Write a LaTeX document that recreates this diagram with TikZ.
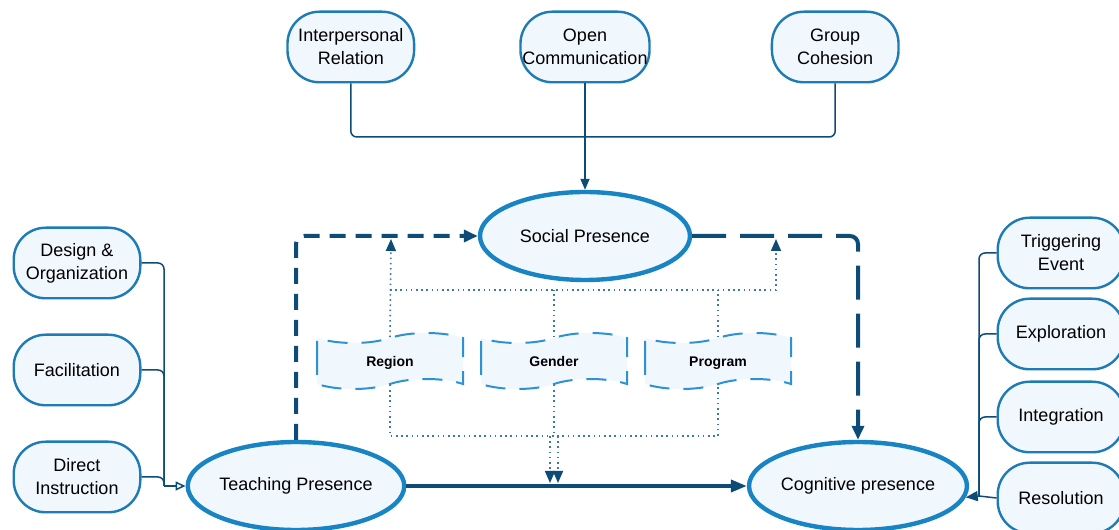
\documentclass[tikz,border=0pt]{standalone}
\usepackage{fontspec}
\setmainfont{Liberation Sans}
\usepackage{xcolor}
\usetikzlibrary{positioning, arrows.meta, shapes.geometric, shapes.symbols}

\definecolor{boxline}{RGB}{30,123,181}
\definecolor{ringline}{RGB}{24,132,196}
\definecolor{boxfill}{RGB}{240,247,253}
\definecolor{navy}{RGB}{14,76,120}
\definecolor{tapeline}{RGB}{45,145,210}
\definecolor{dotblue}{RGB}{60,120,172}

\begin{document}
\begin{tikzpicture}[x=0.5pt, y=0.5pt, font=\fontsize{9}{11.5}\selectfont,
        item/.style={draw=boxline, fill=boxfill, line width=1.2pt, rounded corners=16pt, minimum width=63.3pt, minimum height=35.3pt, align=center, inner sep=1pt},
        presence/.style={ellipse, draw=ringline, fill=boxfill, line width=2.2pt, minimum width=105pt, minimum height=44pt, inner sep=0pt},
        moderator/.style={tape, draw=tapeline, fill=boxfill, line width=1pt, dash pattern=on 10pt off 7pt, minimum width=73pt, minimum height=28pt, text height=0.75em, text depth=0.2em, font=\fontsize{7}{8}\selectfont\bfseries},
        link/.style={draw=navy, line width=0.75pt, rounded corners=3pt},
        flow/.style={draw=navy, line width=1.8pt, -{Triangle[length=8pt, width=6pt]}},
        influence/.style={draw=navy, line width=2pt, rounded corners=4pt, -{Triangle[length=7pt, width=6pt]}},
        dotline/.style={draw=dotblue, line width=0.8pt, dash pattern=on 0.8pt off 1.8pt},
        dottip/.style={-{Triangle[length=6pt, width=5pt, color=navy, fill=navy]}}]
        \useasboundingbox (0,0) rectangle (1119,530);
        \fill[white] (0,0) rectangle (1119,530);

        \node[presence](social) at (585,294){Social Presence};
        \node[presence](teach) at (296,44){Teaching Presence};
        \node[presence](cog) at (858,44){Cognitive presence};

        \node[item](open) at (585,483){Open\\Communication};
        \node[item](interp)[left = 52pt of open]{Interpersonal\\Relation};
        \node[item](group)[right = 60pt of open]{Group\\Cohesion};

        \node[item](design) at (77,267){Design \&\\Organization};
        \node[item](facil)[below = 17pt of design]{Facilitation};
        \node[item](direct)[below = 17pt of facil]{Direct\\Instruction};

        \node[item](trig) at (1061,277){Triggering\\Event};
        \node[item](explor)[below = 4pt of trig]{Exploration};
        \node[item](integ)[below = 5pt of explor]{Integration};
        \node[item](resol)[below = 4pt of integ]{Resolution};

        \node[moderator](gender) at (554,169){Gender};
        \node[moderator](region)[left = 8pt of gender]{Region};
        \node[moderator](program)[right = 8pt of gender]{Program};

        \coordinate (sbus) at (585,393);
        \coordinate (tbus) at (164,44);
        \coordinate (cbus) at (979,34);
        \coordinate (upL) at (391,291);
        \coordinate (upR) at (776,291);
        \coordinate (busR) at (776,240);
        \coordinate (low) at (554,94);
        \coordinate (downL) at (550,47);
        \coordinate (downR) at (558,47);

        \draw[link] (interp.south) |- (sbus) -| (group.south);
        \draw[link, -{Triangle[length=5.5pt, width=4.5pt]}] (open.south) -- (social.north);

        \draw[link] (design.east) -| (tbus);
        \draw[link] (facil.east) -| (tbus);
        \draw[link] (direct.east) -| (tbus);
        \draw[link, -{Triangle[open, length=5pt, width=4.5pt]}] (tbus) -- (teach.west);

        \draw[link] (trig.west) -| (cbus);
        \draw[link] (explor.west) -| (cbus);
        \draw[link] (integ.west) -| (cbus);
        \draw[link] (resol.west) -- (cbus);
        \draw[link, -{Triangle[length=6pt, width=5pt]}] (cbus) -- (cog.-6);

        \draw[flow] (teach.east) -- (cog.west);
        \draw[influence, dash pattern=on 8pt off 5pt] (teach.north) |- (social.west);
        \draw[influence, dash pattern=on 17pt off 7pt] (social.east) -| (cog.north);

        \draw[dotline, dottip] (region.north) -- (upL);
        \draw[dotline, dottip] (region.north |- busR) -- (busR) -- (upR);
        \draw[dotline] (gender.north) -- (gender.north |- busR);
        \draw[dotline] (program.north) -- (program.north |- busR);
        \draw[dotline] (region.south) |- (program.south |- low) -- (program.south);
        \draw[dotline] (gender.south) -- (low);
        \draw[dotline, dottip] (low -| downL) -- (downL);
        \draw[dotline, dottip] (low -| downR) -- (downR);
    \end{tikzpicture}
\end{document}
